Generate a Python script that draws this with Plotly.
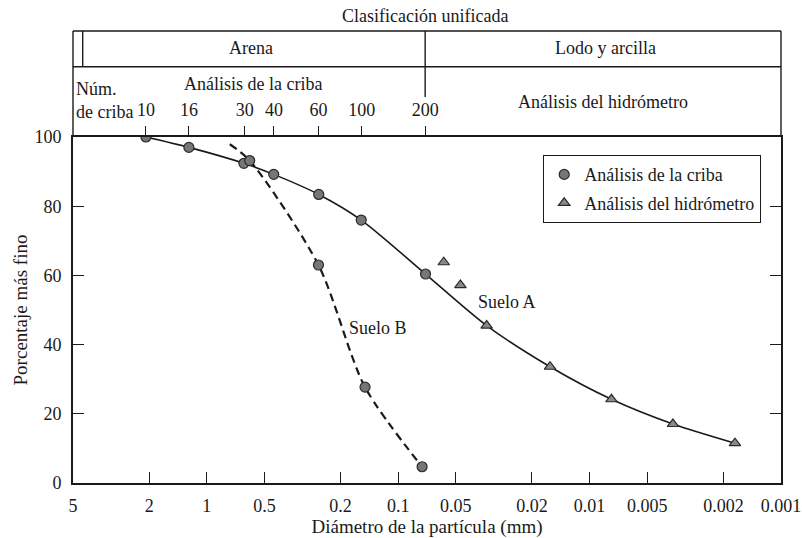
import math
import plotly.graph_objects as go

# ---------------- data ----------------
x_tick_vals = [5, 2, 1, 0.5, 0.2, 0.1, 0.05, 0.02, 0.01, 0.005, 0.002, 0.001]
x_tick_text = ["5", "2", "1", "0.5", "0.2", "0.1", "0.05", "0.02", "0.01", "0.005", "0.002", "0.001"]
y_tick_vals = [0, 20, 40, 60, 80, 100]

sieve_numbers = ["10", "16", "30", "40", "60", "100", "200"]
sieve_sizes = [2.08, 1.24, 0.633, 0.446, 0.261, 0.155, 0.0723]

soilA_sieve_d = [2.08, 1.24, 0.64, 0.447, 0.26, 0.156, 0.072]
soilA_sieve_p = [100, 97, 92.4, 89.2, 83.4, 76, 60.4]
soilA_hydro_d = [0.0578, 0.0473, 0.0345, 0.0161, 0.00769, 0.00367, 0.00174]
soilA_hydro_p = [63.8, 57.2, 45.5, 33.6, 24.2, 17.05, 11.5]
soilA_curve_d = [2.08, 1.24, 0.64, 0.447, 0.26, 0.156, 0.072, 0.0345, 0.0161, 0.00769, 0.00367, 0.00174]
soilA_curve_p = [100, 97, 92.4, 89.2, 83.4, 76, 60.4, 45.5, 33.6, 24.2, 17.05, 11.5]

soilB_sieve_d = [0.597, 0.261, 0.149, 0.075]
soilB_sieve_p = [93.2, 63, 27.7, 4.7]
soilB_curve_d = [0.758, 0.597, 0.261, 0.149, 0.075]
soilB_curve_p = [97.9, 93.2, 63, 27.7, 4.7]

FONT = "Liberation Serif, Times New Roman, DejaVu Serif, serif"

fig = go.Figure()

fig.add_trace(go.Scatter(x=soilA_curve_d, y=soilA_curve_p, mode="lines",
                         line=dict(color="#1a1a1a", width=1.6, shape="spline", smoothing=0.8),
                         showlegend=False, hoverinfo="skip"))
fig.add_trace(go.Scatter(x=soilB_curve_d, y=soilB_curve_p, mode="lines",
                         line=dict(color="#1a1a1a", width=2.2, dash="8px,5px", shape="spline", smoothing=0.8),
                         showlegend=False, hoverinfo="skip"))
fig.add_trace(go.Scatter(x=soilA_sieve_d + soilB_sieve_d, y=soilA_sieve_p + soilB_sieve_p,
                         mode="markers", name="Análisis de la criba", legendgroup="a",
                         marker=dict(symbol="circle", size=10, color="#767676",
                                     line=dict(color="#2a2a2a", width=1.2))))
fig.add_trace(go.Scatter(x=soilA_hydro_d, y=soilA_hydro_p,
                         mode="markers", name="Análisis del hidrómetro", legendgroup="b",
                         marker=dict(symbol="triangle-up", size=10, color="#8a8a8a",
                                     line=dict(color="#2a2a2a", width=1.2))))

x_range = [math.log10(5), math.log10(0.001)]

def py(p):
    # screen pixel row -> paper y (plot area spans rows 137..483)
    return (483 - p) / 346.0

def px(p):
    # screen pixel column -> paper x (plot area spans columns 73..781)
    return (p - 73) / 708.0

shapes = []
line_style = dict(color="#1a1a1a", width=1.4)
shapes.append(dict(type="line", xref="paper", yref="paper", x0=0, x1=1, y0=py(31), y1=py(31), line=line_style))
shapes.append(dict(type="line", xref="paper", yref="paper", x0=0, x1=1, y0=py(66.7), y1=py(66.7), line=line_style))
shapes.append(dict(type="line", xref="paper", yref="paper", x0=0, x1=0, y0=1, y1=py(31), line=line_style))
shapes.append(dict(type="line", xref="paper", yref="paper", x0=1, x1=1, y0=1, y1=py(31), line=line_style))
shapes.append(dict(type="line", xref="x", yref="paper", x0=4.45, x1=4.45, y0=py(66.7), y1=py(31), line=line_style))
shapes.append(dict(type="line", xref="x", yref="paper", x0=sieve_sizes[-1], x1=sieve_sizes[-1],
                   y0=py(97), y1=py(31), line=line_style))

ann_font = dict(family=FONT, size=18, color="#1a1a1a")
annotations = [
    dict(text="Clasificación unificada", x=px(425), y=py(16)),
    dict(text="Arena", x=px(251), y=py(48)),
    dict(text="Lodo y arcilla", x=px(605), y=py(48)),
    dict(text="Análisis de la criba", x=px(253), y=py(84)),
    dict(text="Análisis del hidrómetro", x=px(603), y=py(102)),
    dict(text="Núm.", x=px(74), y=py(89), xanchor="left"),
    dict(text="de criba", x=px(74), y=py(112), xanchor="left"),
]
for a in annotations:
    a.update(xref="paper", yref="paper", showarrow=False, font=ann_font)
    a.setdefault("xanchor", "center")
    a["yanchor"] = "middle"

annotations.append(dict(text="Suelo A", x=math.log10(0.0269), y=52.3, xref="x", yref="y",
                        showarrow=False, font=ann_font))
annotations.append(dict(text="Suelo B", x=math.log10(0.128), y=44.8, xref="x", yref="y",
                        showarrow=False, font=ann_font))

fig.update_layout(
    width=802, height=538,
    margin=dict(l=73, r=21, t=137, b=55),
    paper_bgcolor="white", plot_bgcolor="white",
    font=dict(family=FONT, size=18, color="#1a1a1a"),
    shapes=shapes, annotations=annotations,
    legend=dict(x=px(543), y=py(155), xanchor="left", yanchor="top",
                bordercolor="#1a1a1a", borderwidth=1.2, bgcolor="white",
                font=dict(family=FONT, size=18, color="#1a1a1a"), tracegroupgap=2),
    xaxis=dict(type="log", range=x_range, tickvals=x_tick_vals, ticktext=x_tick_text,
               ticks="inside", ticklen=11, tickwidth=1.4, tickcolor="#1a1a1a",
               showline=True, linecolor="#1a1a1a", linewidth=1.6, mirror=True,
               showgrid=False, zeroline=False, ticklabelstandoff=6, automargin=False,
               tickfont=dict(family=FONT, size=18),
               title=dict(text="Diámetro de la partícula (mm)", standoff=6,
                          font=dict(family=FONT, size=19))),
    xaxis2=dict(type="log", range=x_range, overlaying="x", side="top", anchor="y",
                tickvals=sieve_sizes, ticktext=sieve_numbers, automargin=False,
                ticks="outside", ticklen=10, tickwidth=1.4, tickcolor="#1a1a1a",
                showline=False, showgrid=False, zeroline=False, ticklabelstandoff=3,
                tickfont=dict(family=FONT, size=18)),
    yaxis=dict(range=[0, 100], tickvals=y_tick_vals, ticks="inside", ticklen=11,
               tickwidth=1.4, tickcolor="#1a1a1a", automargin=False,
               showline=True, linecolor="#1a1a1a", linewidth=1.6, mirror="ticks",
               showgrid=False, zeroline=False, ticklabelstandoff=6,
               tickfont=dict(family=FONT, size=18),
               title=dict(text="Porcentaje más fino", standoff=2,
                          font=dict(family=FONT, size=19))),
)

fig.add_trace(go.Scatter(x=[sieve_sizes[0]], y=[None], xaxis="x2", yaxis="y",
                         showlegend=False, hoverinfo="skip", mode="markers"))

# remove the default 8px page margin so the figure fills the window exactly
fig.write_html("out.html", config={"displayModeBar": False},
               post_script="document.body.style.margin='0';document.body.style.overflow='hidden';")
